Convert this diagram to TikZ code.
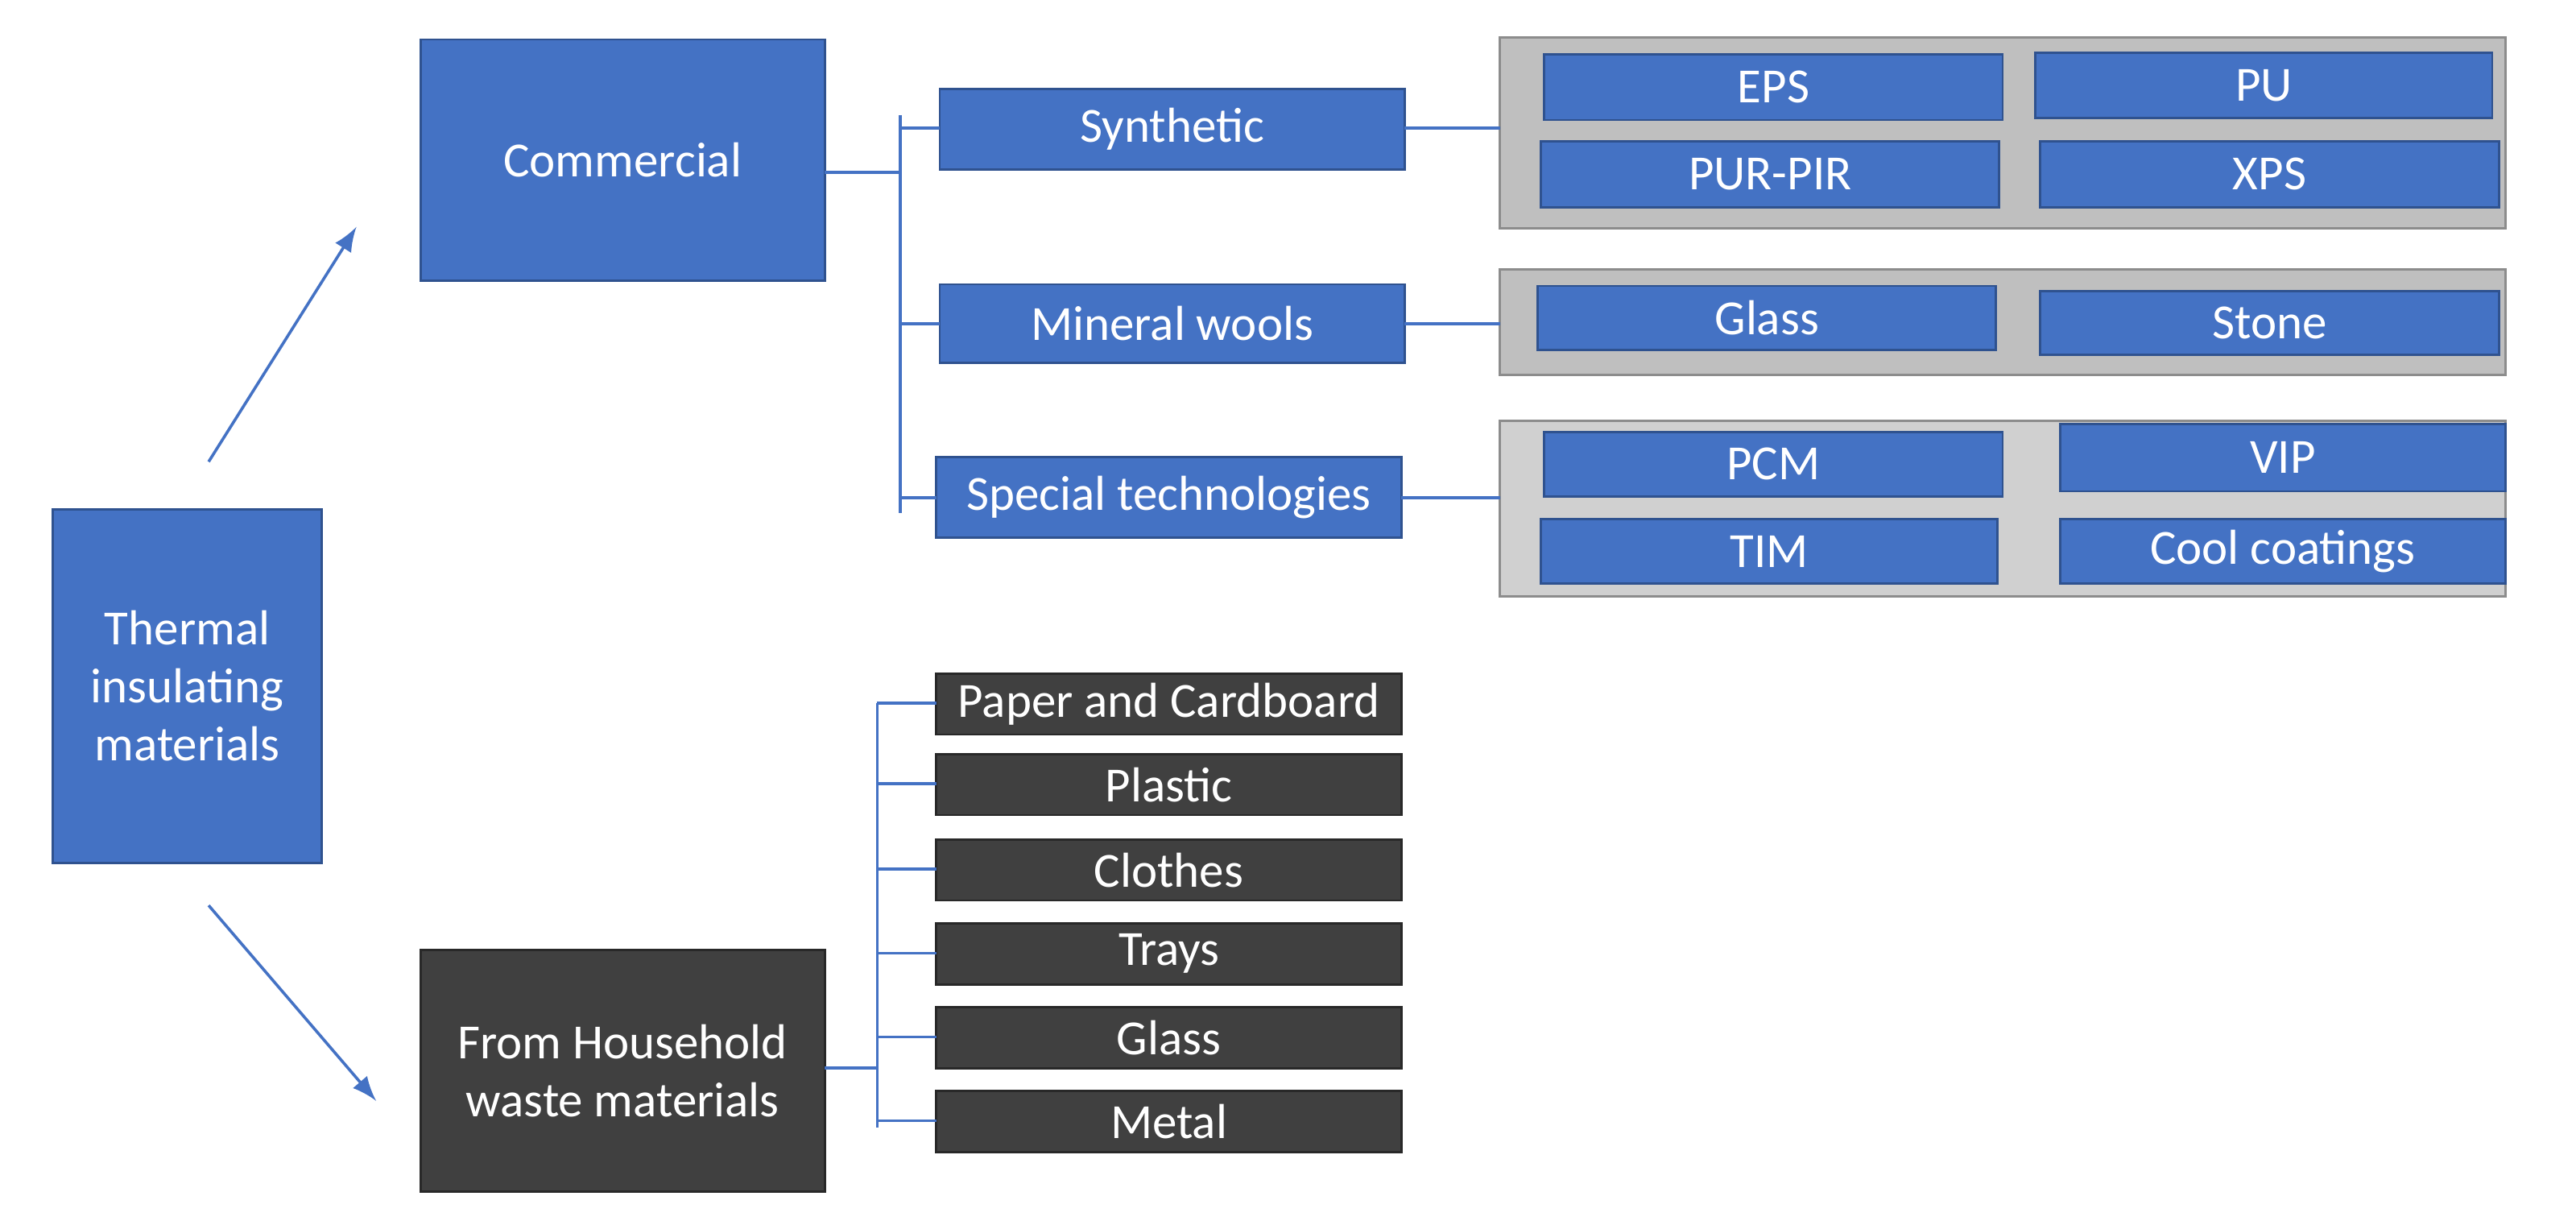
\documentclass[tikz,border=0pt]{standalone}
\usepackage{fontspec}
\setmainfont{Carlito}
\begin{document}
\begin{tikzpicture}[x=0.01cm,y=-0.01cm,
 every node/.style={font=\fontsize{8.5}{10}\selectfont,text=white,inner sep=0},
 bl/.style={fill={rgb,255:red,68;green,114;blue,196},draw={rgb,255:red,47;green,82;blue,143},line width=0.4pt},
 dk/.style={fill={rgb,255:red,64;green,64;blue,64},draw={rgb,255:red,40;green,40;blue,40},line width=0.4pt},
 pan/.style={fill={rgb,255:red,191;green,191;blue,191},draw={rgb,255:red,140;green,140;blue,140},line width=0.4pt},
 ln/.style={draw={rgb,255:red,68;green,114;blue,196},line width=0.5pt}]
\useasboundingbox (0,0) rectangle (1568,742.6);
\newcommand{\bx}[6]{\draw[#1] (#2,#3) rectangle (#4,#5) node[midway] (#6) {};}
\newcommand{\bt}[7]{\draw[#1] (#2,#3) rectangle (#4,#5); \node[align=center] (#6) at ({(#2+#4)/2},{(#3+#5)/2}) {#7};}
% panels
\draw[pan] (913,23) rectangle (1525,139);
\draw[pan] (913,164) rectangle (1525,228);
\draw[pan,fill={rgb,255:red,208;green,208;blue,208}] (913,256) rectangle (1525,363);
\bt{bl}{32}{310}{196}{525}{therm}{Thermal\\insulating\\materials}
\bt{bl}{256}{24}{502}{171}{comm}{Commercial}
\bt{dk}{256}{578}{502}{725}{house}{From Household\\waste materials}
\bt{bl}{572}{54}{855}{103}{syn}{Synthetic}
\bt{bl}{572}{173}{855}{221}{min}{Mineral wools}
\bt{bl}{570}{278}{853}{327}{spe}{Special technologies}
\bt{bl}{940}{33}{1219}{73}{eps}{EPS}
\bt{bl}{1239}{32}{1517}{72}{pu}{PU}
\bt{bl}{938}{86}{1217}{126}{pur}{PUR-PIR}
\bt{bl}{1242}{86}{1521}{126}{xps}{XPS}
\bt{bl}{936}{174}{1215}{213}{gla}{Glass}
\bt{bl}{1242}{177}{1521}{216}{sto}{Stone}
\bt{bl}{940}{263}{1219}{302}{pcm}{PCM}
\bt{bl}{1254}{258}{1525}{299}{vip}{VIP}
\bt{bl}{938}{316}{1216}{355}{tim}{TIM}
\bt{bl}{1254}{316}{1525}{355}{cool}{Cool coatings}
\bt{dk}{570}{410}{853}{447}{h1}{Paper and Cardboard}
\bt{dk}{570}{459}{853}{496}{h2}{Plastic}
\bt{dk}{570}{511}{853}{548}{h3}{Clothes}
\bt{dk}{570}{562}{853}{599}{h4}{Trays}
\bt{dk}{570}{613}{853}{650}{h5}{Glass}
\bt{dk}{570}{664}{853}{701}{h6}{Metal}
% arrows
\coordinate (a1) at (127,281); \coordinate (a2) at (217,138);
\coordinate (b1) at (127,551); \coordinate (b2) at (229,670);
\draw[ln,-latex] (a1) -- (a2);
\draw[ln,-latex] (b1) -- (b2);
% brackets
\draw[ln] (502,105) -- (548,105);
\draw[ln] (548,70) -- (548,312);
\draw[ln] (548,78) -- (572,78);
\draw[ln] (548,197) -- (572,197);
\draw[ln] (548,303) -- (570,303);
\draw[ln] (855,78) -- (913,78);
\draw[ln] (855,197) -- (913,197);
\draw[ln] (853,303) -- (913,303);
\draw[ln] (502,650) -- (534,650);
\draw[ln] (534,428) -- (534,686);
\foreach \y in {428,477,529,580,631,682} \draw[ln] (534,\y) -- (570,\y);
\end{tikzpicture}
\end{document}
